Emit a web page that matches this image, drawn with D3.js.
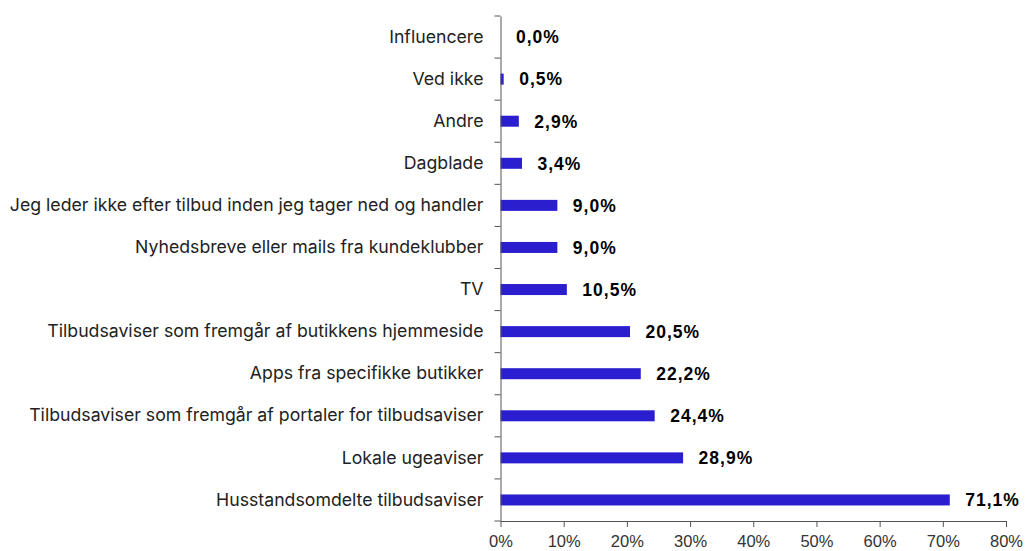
<!DOCTYPE html>
<html>
<head>
<meta charset="utf-8">
<script src="https://cdn.jsdelivr.net/npm/d3@7"></script>
<style>
  body { margin: 0; background: #fff; }
  svg { display: block; }
</style>
</head>
<body>
<div id="chart"></div>
<script>
const categories = [
  "Influencere",
  "Ved ikke",
  "Andre",
  "Dagblade",
  "Jeg leder ikke efter tilbud inden jeg tager ned og handler",
  "Nyhedsbreve eller mails fra kundeklubber",
  "TV",
  "Tilbudsaviser som fremgår af butikkens hjemmeside",
  "Apps fra specifikke butikker ",
  "Tilbudsaviser som fremgår af portaler for tilbudsaviser",
  "Lokale ugeaviser",
  "Husstandsomdelte tilbudsaviser"
];
const values = [0.0, 0.5, 2.9, 3.4, 9.0, 9.0, 10.5, 20.5, 22.2, 24.4, 28.9, 71.1];
const tickValues = [0, 10, 20, 30, 40, 50, 60, 70, 80];

const width = 1025, height = 551;
const margin = { top: 16, right: 19, bottom: 30, left: 500.5 };

const svg = d3.select("#chart")
  .append("svg")
  .attr("width", width)
  .attr("height", height);

const x = d3.scaleLinear()
  .domain([0, 80])
  .range([margin.left, width - margin.right]);

const y = d3.scaleBand()
  .domain(categories)
  .range([margin.top, height - margin.bottom]);

// bars
svg.append("g")
  .selectAll("rect")
  .data(values)
  .join("rect")
  .attr("x", x(0))
  .attr("y", (d, i) => y(categories[i]) + y.bandwidth() / 2 - 5.5)
  .attr("width", d => x(d) - x(0))
  .attr("height", 11)
  .attr("fill", "#2b1ecf");

// value labels
svg.append("g")
  .selectAll("text")
  .data(values)
  .join("text")
  .attr("x", d => x(d) + 15.5)
  .attr("y", (d, i) => y(categories[i]) + y.bandwidth() / 2)
  .attr("dy", "0.36em")
  .attr("font-family", "Liberation Sans, Arial, sans-serif")
  .attr("font-weight", "bold")
  .attr("font-size", "17.5px")
  .attr("letter-spacing", "1px")
  .attr("fill", "#000")
  .text(d => d.toFixed(1).replace(".", ",") + "%");

// y axis
const yAxis = svg.append("g")
  .attr("transform", `translate(${x(0)},0)`)
  .call(d3.axisLeft(y).tickSizeInner(0).tickSizeOuter(0).tickPadding(17));
yAxis.select(".domain").attr("stroke", "#555");
yAxis.selectAll("text")
  .attr("font-family", "Inter, sans-serif")
  .attr("font-size", "17.7px")
  .attr("fill", "#222");

// y separators between categories
svg.append("g")
  .selectAll("line")
  .data(d3.range(categories.length + 1))
  .join("line")
  .attr("x1", x(0) - 6)
  .attr("x2", x(0))
  .attr("y1", i => margin.top + i * y.step())
  .attr("y2", i => margin.top + i * y.step())
  .attr("stroke", "#555");

// x axis
const xAxis = svg.append("g")
  .attr("transform", `translate(0,${height - margin.bottom})`)
  .call(d3.axisBottom(x).tickValues(tickValues).tickSize(6).tickSizeOuter(0).tickPadding(8)
    .tickFormat(d => d + "%"));
xAxis.selectAll("line, .domain").attr("stroke", "#555");
xAxis.selectAll("text")
  .attr("font-family", "Liberation Sans, Arial, sans-serif")
  .attr("font-size", "16.5px")
  .attr("fill", "#333");
</script>
</body>
</html>
